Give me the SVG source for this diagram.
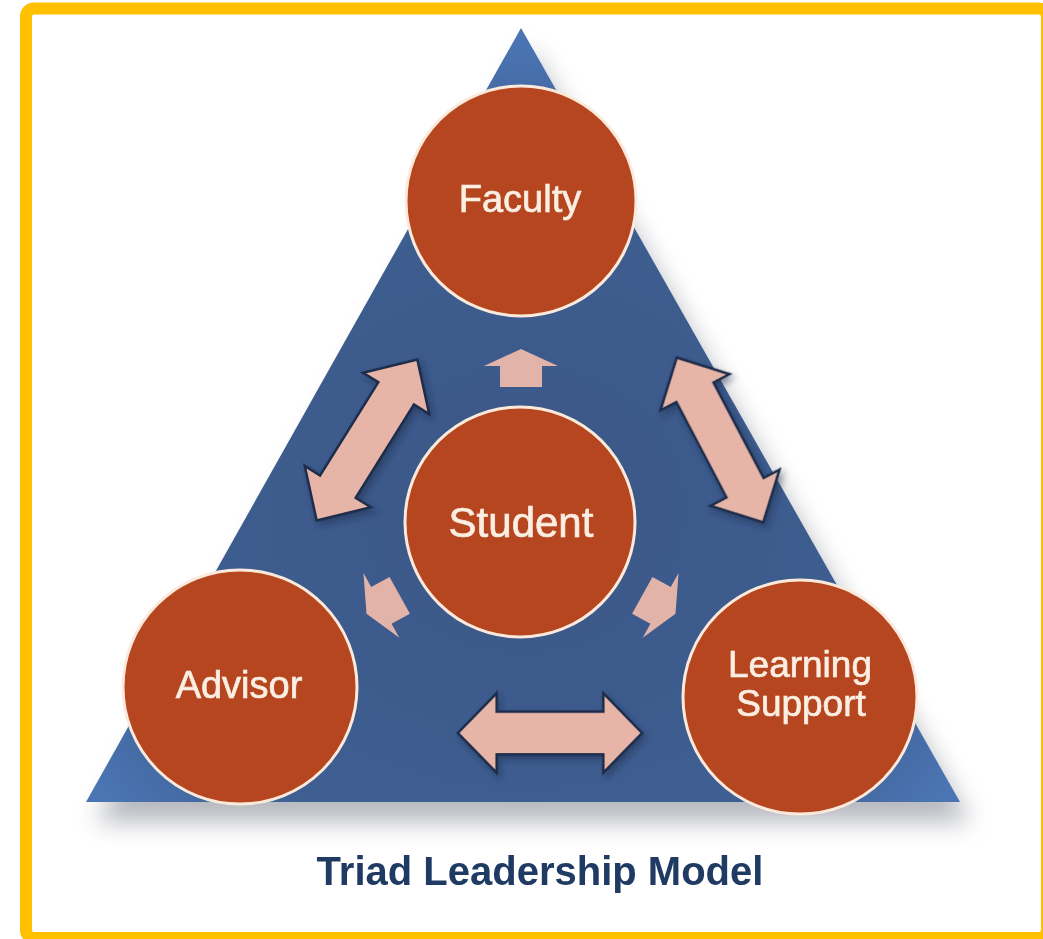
<svg xmlns="http://www.w3.org/2000/svg" width="1043" height="939" viewBox="0 0 1043 939">
  <defs>
    <style>
      .node { fill: #B5461F; stroke: #FBEADB; stroke-width: 3; }
      .lbl { font-family: "Liberation Sans", Arial, sans-serif; fill: #FBEEE2; text-anchor: middle; stroke: #FBEEE2; stroke-width: 0.7; }
      .dbl { fill: #E6B5A7; stroke: #1F2D4B; stroke-width: 2.5; stroke-linejoin: miter; }
      .sgl { fill: #E2B4A9; }
      .title { font-family: "Liberation Sans", Arial, sans-serif; font-weight: bold; fill: #1F3B63; text-anchor: middle; }
    </style>
    <radialGradient id="triFill" cx="0.5" cy="0.62" r="0.6">
      <stop offset="0" stop-color="#3A5686"/>
      <stop offset="0.75" stop-color="#3F5F92"/>
      <stop offset="1" stop-color="#4A74B2"/>
    </radialGradient>
    <filter id="shadow" x="-20%" y="-20%" width="140%" height="140%">
      <feGaussianBlur stdDeviation="12"/>
    </filter>
    <filter id="soft" x="-10%" y="-10%" width="120%" height="120%">
      <feGaussianBlur in="SourceAlpha" stdDeviation="3"/>
      <feOffset dx="3" dy="4" result="b"/>
      <feFlood flood-color="#1B2640" flood-opacity="0.45"/>
      <feComposite in2="b" operator="in"/>
      <feMerge><feMergeNode/><feMergeNode in="SourceGraphic"/></feMerge>
    </filter>
    <path id="dblArrow" d="M-95,0 L-55,-39 L-55,-21 L55,-21 L55,-39 L95,0 L55,39 L55,21 L-55,21 L-55,39 Z"/>
    <path id="upArrow" d="M0,-20 L37,-3 L21,-3 L21,18 L-21,18 L-21,-3 L-37,-3 Z"/>
  </defs>

  <rect x="0" y="0" width="1043" height="939" fill="#FFFFFF"/>

  <!-- frame -->
  <rect x="26" y="8.5" width="1021" height="929.5" rx="8" fill="none" stroke="#FFC000" stroke-width="12"/>

  <!-- triangle with shadow -->
  <g id="triangle">
    <polygon points="531,50 970,822 96,822" fill="#7A7F8A" opacity="0.55" filter="url(#shadow)"/>
    <polygon points="521,28 960,802 86,802" fill="url(#triFill)"/>
  </g>

  <!-- connectors -->
  <g id="connectors">
    <use href="#upArrow" class="sgl" transform="translate(521,369)"/>
    <use href="#upArrow" class="sgl" transform="translate(384,604) rotate(-119)"/>
    <use href="#upArrow" class="sgl" transform="translate(658,604) rotate(119)"/>
    <g filter="url(#soft)">
      <use href="#dblArrow" class="dbl" transform="translate(367,440) rotate(-58)" />
      <use href="#dblArrow" class="dbl" transform="translate(720,440) rotate(62.3) scale(0.98,1)"/>
      <use href="#dblArrow" class="dbl" transform="translate(550,733) scale(0.97,1.02)"/>
    </g>
  </g>

  <!-- nodes -->
  <g id="node-faculty">
    <circle class="node" cx="521" cy="201" r="115"/>
    <text class="lbl" x="520" y="212" font-size="38">Faculty</text>
  </g>
  <g id="node-student">
    <circle class="node" cx="520" cy="522" r="115"/>
    <text class="lbl" x="521" y="537" font-size="42">Student</text>
  </g>
  <g id="node-advisor">
    <circle class="node" cx="240" cy="687" r="117"/>
    <text class="lbl" x="239" y="698" font-size="38">Advisor</text>
  </g>
  <g id="node-learning-support">
    <circle class="node" cx="800" cy="697" r="117"/>
    <text class="lbl" x="800" y="677" font-size="37">Learning</text>
    <text class="lbl" x="801" y="716" font-size="37">Support</text>
  </g>

  <text class="title" x="540" y="885" font-size="40">Triad Leadership Model</text>
</svg>
